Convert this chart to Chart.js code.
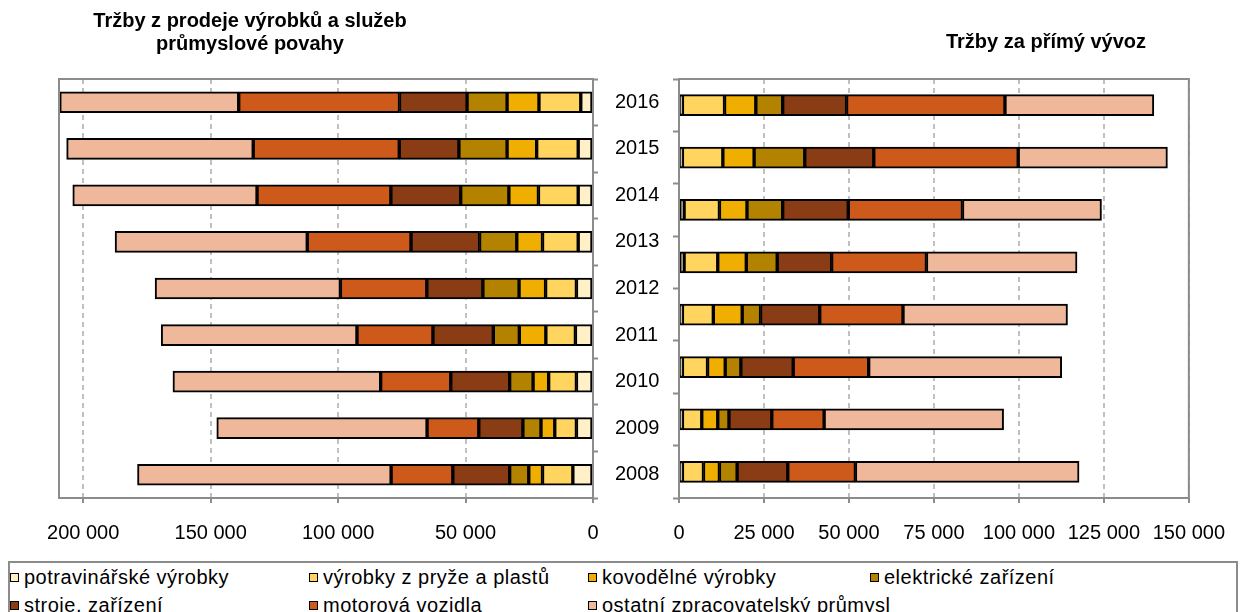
<!DOCTYPE html>
<html>
<head>
<meta charset="utf-8">
<script src="https://cdn.jsdelivr.net/npm/chart.js@4.4.1/dist/chart.umd.min.js"></script>
<style>
  body { margin: 0; background: #fff; width: 1243px; height: 612px; overflow: hidden; position: relative;
         font-family: "Liberation Sans", Arial, sans-serif; }
  #left { position: absolute; left: 0; top: 0; }
  #right { position: absolute; left: 600px; top: 0; }
  #legend { position: absolute; left: 8px; top: 561px; width: 1230px; height: 70px;
            border: 2px solid #8c8c8c; box-sizing: border-box; }
  .item { position: absolute; font-size: 20px; line-height: 24px; white-space: nowrap; color: #000; letter-spacing: 0.5px; }
  .swatch { display: inline-block; width: 7px; height: 7px; border: 1px solid #000; margin-right: 5px;
            vertical-align: 2px; }
</style>
</head>
<body>
<canvas id="left" width="680" height="540"></canvas>
<canvas id="right" width="643" height="540"></canvas>
<div id="legend"></div>
<script>
// years, top to bottom
const years = ['2016', '2015', '2014', '2013', '2012', '2011', '2010', '2009', '2008'];
const exportYears = ['2015', '2014', '2013', '2012', '2011', '2010', '2009', '2008'];

const seriesNames = ['potravinářské výrobky', 'výrobky z pryže a plastů', 'kovodělné výrobky', 'elektrické zařízení',
                     'stroje, zařízení', 'motorová vozidla', 'ostatní zpracovatelský průmysl'];
const seriesColors = ['#fff0c8', '#ffd45f', '#f0ae00', '#b38300', '#8a3c14', '#cd5a1a', '#f0b89b'];

// Tržby z prodeje výrobků a služeb průmyslové povahy
const salesFood      = [4800, 5800, 5800, 5800, 6500, 6900, 6500, 6500, 7900];
const salesRubber    = [16400, 16300, 15600, 14000, 12100, 11600, 10900, 8500, 11900];
const salesMetal     = [12500, 11600, 11600, 10100, 10400, 10400, 6100, 5400, 5400];
const salesElectric  = [15700, 18900, 18900, 14600, 14200, 10200, 9200, 7100, 7500];
const salesMachinery = [26500, 23400, 27400, 26900, 22000, 23700, 23100, 17300, 22300];
const salesVehicles  = [63100, 57300, 52500, 40700, 33900, 29800, 27500, 20300, 24200];
const salesOther     = [70200, 73200, 72300, 75400, 72700, 76800, 81500, 82500, 99500];

// Tržby za přímý vývoz
const exportFood      = [1000, 1000, 1500, 1500, 1000, 1000, 1000, 1000];
const exportRubber    = [12400, 11900, 10400, 9900, 9100, 7400, 5700, 6200];
const exportMetal     = [9200, 9200, 8100, 8400, 8500, 5200, 4700, 4700];
const exportElectric  = [7900, 14900, 10500, 9100, 5400, 4600, 3300, 5200];
const exportMachinery = [18800, 20300, 19300, 16000, 17400, 15400, 12600, 14900];
const exportVehicles  = [46600, 42500, 33600, 27900, 24500, 22200, 15400, 19900];
const exportOther     = [43800, 43900, 40900, 44300, 48400, 56800, 52800, 65800];

const salesTicks = [0, 50000, 100000, 150000, 200000];
const exportTicks = [0, 25000, 50000, 75000, 100000, 125000, 150000];

const FONT = '"Liberation Sans", Arial, sans-serif';
const GRID = '#c0c0c0';
const FRAME = '#8c8c8c';

function fmt(v) {
  return String(v).replace(/\B(?=(\d{3})+(?!\d))/g, ' ');
}

function makeSets(list) {
  return list.map((d, i) => ({
    label: seriesNames[i],
    data: d,
    backgroundColor: seriesColors[i],
    borderColor: '#000',
    borderWidth: 2,
    borderSkipped: false,
    barThickness: 21
  }));
}

// frame round the plot area
const plotFrame = {
  id: 'plotFrame',
  afterDatasetsDraw(chart) {
    const {ctx, chartArea: a} = chart;
    ctx.save();
    ctx.strokeStyle = FRAME;
    ctx.lineWidth = 2;
    ctx.strokeRect(a.left, a.top, a.right - a.left, a.bottom - a.top);
    ctx.restore();
  }
};

// titles sit off-centre, so they are drawn here
const panelTitle = {
  id: 'panelTitle',
  afterDraw(chart, args, opts) {
    const ctx = chart.ctx;
    ctx.save();
    ctx.font = 'bold 20px ' + FONT;
    ctx.fillStyle = '#000';
    ctx.textAlign = 'center';
    ctx.textBaseline = 'middle';
    opts.lines.forEach((t, i) => ctx.fillText(t, opts.x, opts.y + i * 23));
    ctx.restore();
  }
};

function keepTicks(values) {
  return s => { s.ticks = values.map(v => ({value: v})); };
}

var leftChart = new Chart(document.getElementById('left'), {
  type: 'bar',
  data: {
    labels: years,
    datasets: makeSets([salesFood, salesRubber, salesMetal, salesElectric, salesMachinery, salesVehicles, salesOther])
  },
  options: {
    responsive: false,
    animation: false,
    indexAxis: 'y',
    layout: { padding: { left: 59, top: 79, right: 0, bottom: 0 } },
    plugins: {
      legend: { display: false },
      tooltip: { enabled: false },
      panelTitle: { lines: ['Tržby z prodeje výrobků a služeb', 'průmyslové povahy'], x: 250, y: 21 }
    },
    scales: {
      x: {
        stacked: true,
        reverse: true,
        min: 0,
        max: 209500,
        afterBuildTicks: keepTicks(salesTicks),
        afterFit: s => { s.height = 42; },
        ticks: { font: { size: 20, family: FONT }, color: '#000', padding: 18, maxRotation: 0, autoSkip: false, callback: v => fmt(v) },
        grid: { color: GRID, lineWidth: 2, tickLength: 5, tickColor: FRAME, tickWidth: 2, tickBorderDash: [] },
        border: { display: false, dash: [5, 4] }
      },
      y: {
        stacked: true,
        position: 'right',
        afterFit: s => { s.width = 87; },
        ticks: { font: { size: 20, family: FONT }, color: '#000', padding: 17 },
        grid: { drawOnChartArea: false, tickLength: 5, tickColor: FRAME, tickWidth: 2 },
        border: { display: false }
      }
    }
  },
  plugins: [plotFrame, panelTitle]
});

var rightChart = new Chart(document.getElementById('right'), {
  type: 'bar',
  data: {
    labels: exportYears,
    datasets: makeSets([exportFood, exportRubber, exportMetal, exportElectric, exportMachinery, exportVehicles, exportOther])
  },
  options: {
    responsive: false,
    animation: false,
    indexAxis: 'y',
    layout: { padding: { left: 0, top: 79, right: 43, bottom: 0 } },
    plugins: {
      legend: { display: false },
      tooltip: { enabled: false },
      panelTitle: { lines: ['Tržby za přímý vývoz'], x: 446, y: 42 }
    },
    scales: {
      x: {
        stacked: true,
        min: 0,
        max: 150000,
        afterBuildTicks: keepTicks(exportTicks),
        afterFit: s => { s.height = 42; },
        ticks: { font: { size: 20, family: FONT }, color: '#000', padding: 18, maxRotation: 0, autoSkip: false, callback: v => fmt(v) },
        grid: { color: GRID, lineWidth: 2, tickLength: 5, tickColor: FRAME, tickWidth: 2, tickBorderDash: [] },
        border: { display: false, dash: [5, 4] }
      },
      y: {
        stacked: true,
        afterFit: s => { s.width = 79; },
        ticks: { display: false },
        grid: { drawOnChartArea: false, tickLength: 6, tickColor: FRAME, tickWidth: 2 },
        border: { display: false }
      }
    }
  },
  plugins: [plotFrame, panelTitle]
});

// legend: two rows of four
const legendCols = [0, 299, 578, 860];
const legend = document.getElementById('legend');
seriesNames.forEach((name, i) => {
  const el = document.createElement('div');
  el.className = 'item';
  el.style.left = legendCols[i % 4] + 'px';
  el.style.top = (i < 4 ? 2 : 30) + 'px';
  el.innerHTML = '<span class="swatch" style="background:' + seriesColors[i] + '"></span>' + name;
  legend.appendChild(el);
});
</script>
</body>
</html>
